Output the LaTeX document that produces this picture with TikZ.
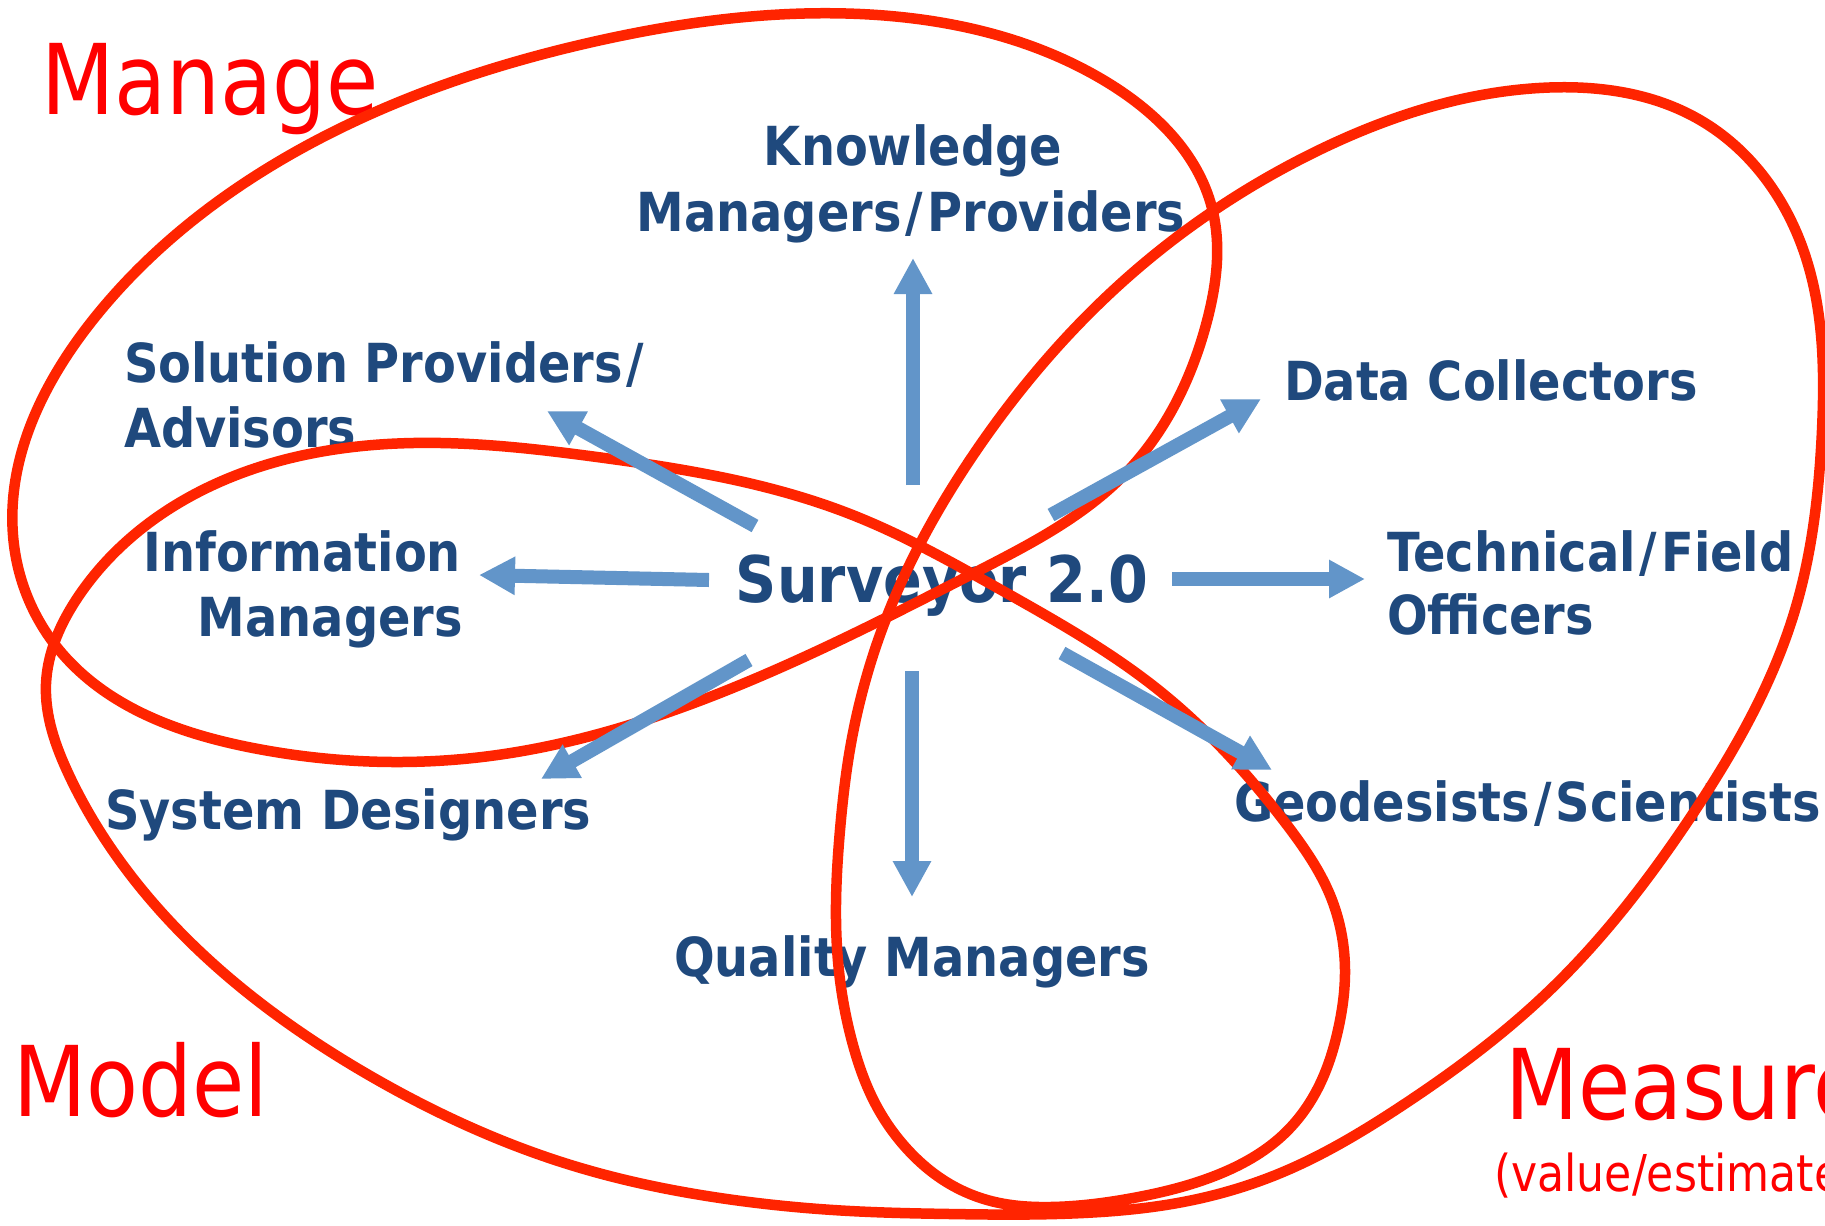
\documentclass[tikz,border=0pt]{standalone}
\usepackage{fontspec}
\setmainfont{DejaVu Sans}[FakeStretch=0.87]
\newfontfamily\bluefont{DejaVu Sans}[FakeStretch=0.89]
\usetikzlibrary{arrows.meta,hobby}
\definecolor{txtblue}{RGB}{31,73,125}
\definecolor{arrblue}{RGB}{98,149,201}
\definecolor{linered}{RGB}{255,36,0}
\definecolor{txtred}{RGB}{255,0,0}
\newcommand{\slsep}{\hspace{4bp}/\hspace{4bp}}
\tikzset{
  lbl/.style={inner sep=0pt, outer sep=0pt, text=txtblue, font=\bluefont\bfseries\fontsize{54}{65}\selectfont},
  bigl/.style={inner sep=0pt, outer sep=0pt, text=txtblue, font=\bluefont\bfseries\fontsize{64.5}{77}\selectfont},
  redlbl/.style={inner sep=0pt, outer sep=0pt, text=txtred, font=\fontsize{98}{118}\selectfont},
  redsmall/.style={inner sep=0pt, outer sep=0pt, text=txtred, font=\fontsize{51}{61}\selectfont},
  loopline/.style={draw=linered, line width=10.5bp, line join=round},
  flow/.style={draw=arrblue, line width=14bp, -{Triangle[length=36bp,width=36bp]}},
}
\begin{document}
\begin{tikzpicture}[x=1bp,y=-1bp]
\useasboundingbox (0,0) rectangle (1825,1225);
\clip (0,0) rectangle (1825,1225);
\fill[white] (0,0) rectangle (1825,1225);

% red group labels
\node[redlbl, anchor=base west] (manage) at (41,114) {Manage};
\node[redlbl, anchor=base west] (model) at (13,1116) {Model};
\node[redlbl, anchor=base west] (measure) at (1505,1119) {Measure};
\node[redsmall, anchor=base west] (measuresub) at (1494,1191) {(value/estimate)};

% blue labels
\node[bigl, anchor=base] (surv) at (942,602) {Surveyor 2.0};
\node[lbl, anchor=base] (know1) at (913,165) {Knowledge};
\node[lbl, anchor=base] (know2) at (911,231) {Managers\slsep Providers};
\node[lbl, anchor=base west] (sol1) at (124,382) {Solution Providers\hspace{4bp}/};
\node[lbl, anchor=base west] (sol2) at (124,447) {Advisors};
\node[lbl, anchor=base east] (info1) at (461,571) {Information};
\node[lbl, anchor=base east] (info2) at (463,636) {Managers};
\node[lbl, anchor=base west] (sys) at (105,829) {System Designers};
\node[lbl, anchor=base west] (data) at (1284,400) {Data Collectors};
\node[lbl, anchor=base west] (tech1) at (1387,571) {Technical\slsep Field};
\node[lbl, anchor=base west] (tech2) at (1387,634) {Officers};
\node[lbl, anchor=base west] (geo) at (1234,821) {Geodesists\slsep Scientists};
\node[lbl, anchor=base] (qual) at (912,976) {Quality Managers};

% Manage ellipse
\draw[loopline, use Hobby shortcut, closed=true]
  (14,545) .. (92,321) .. (321,138) .. (597,41) .. (860,14) .. (1105,81)
  .. (1212,208) .. (1207,321) .. (1125,474) .. (978,571) .. (720,693)
  .. (482,757) .. (253,748) .. (60,651);

% Model / Quality loop / Measure curve
\draw[loopline, use Hobby shortcut, closed=true]
  (46,684) .. (78,597) .. (184,500) .. (413,443) .. (597,457) .. (850,514)
  .. (1003,591) .. (1156,688) .. (1287,825) .. (1330,895) .. (1345,970)
  .. (1338,1030) .. (1318,1088) .. (1283,1135) .. (1217,1175) .. (1133,1198)
  .. (1050,1207) .. (995,1202) .. (948,1183) .. (908,1150) .. (876,1105)
  .. (853,1045) .. (840,980) .. (836,920) .. (840,830) .. (850,749) .. (881,632)
  .. (978,448) .. (1136,270) .. (1309,155)
  .. (1539,88) .. (1700,120) .. (1803,249) .. (1822,430) .. (1795,610)
  .. (1690,818) .. (1550,990) .. (1400,1107) .. (1283,1172) .. (1183,1202)
  .. (1083,1213) .. (950,1214) .. (850,1211) .. (720,1198) .. (574,1166)
  .. (367,1074) .. (184,936) .. (69,775);

% arrow ends
\coordinate (upT) at (913,485);   \coordinate (upH) at (913,258);
\coordinate (dnT) at (912,671);   \coordinate (dnH) at (912,897);
\coordinate (lfT) at (709,580);   \coordinate (lfH) at (479,575);
\coordinate (rtT) at (1172,579);  \coordinate (rtH) at (1365,579);
\coordinate (ulT) at (755,526);   \coordinate (ulH) at (547,411);
\coordinate (urT) at (1051,515);  \coordinate (urH) at (1261,399);
\coordinate (dlT) at (749,660);   \coordinate (dlH) at (541,779);
\coordinate (drT) at (1062,653);  \coordinate (drH) at (1272,770);

\draw[flow] (upT) -- (upH);
\draw[flow] (dnT) -- (dnH);
\draw[flow] (lfT) -- (lfH);
\draw[flow] (rtT) -- (rtH);
\draw[flow] (ulT) -- (ulH);
\draw[flow] (urT) -- (urH);
\draw[flow] (dlT) -- (dlH);
\draw[flow] (drT) -- (drH);
\end{tikzpicture}
\end{document}
